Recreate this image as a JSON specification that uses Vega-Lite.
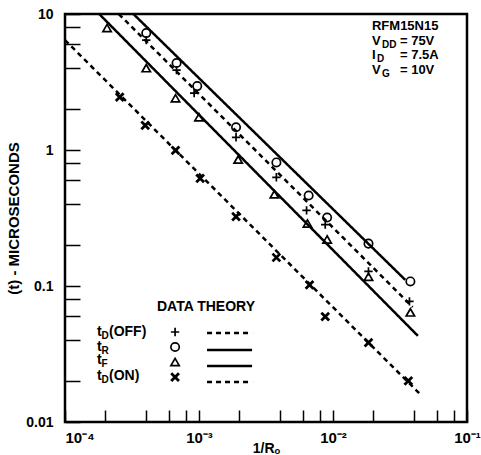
{
  "$schema": "https://vega.github.io/schema/vega-lite/v6.json",
  "width": 402,
  "height": 408,
  "autosize": {"type": "none"},
  "padding": {"left": 65, "top": 14, "right": 14, "bottom": 33},
  "background": "white",
  "config": {
    "view": {"stroke": "black", "strokeWidth": 2.5},
    "font": "Liberation Sans"
  },
  "datasets": {
    "pts": [
      {"s": "tD(OFF)", "x": 0.000404, "y": 6.43},
      {"s": "tD(OFF)", "x": 0.00068, "y": 3.87},
      {"s": "tD(OFF)", "x": 0.00092, "y": 2.62},
      {"s": "tD(OFF)", "x": 0.00189, "y": 1.24},
      {"s": "tD(OFF)", "x": 0.00378, "y": 0.63},
      {"s": "tD(OFF)", "x": 0.00635, "y": 0.36},
      {"s": "tD(OFF)", "x": 0.00875, "y": 0.283},
      {"s": "tD(OFF)", "x": 0.0184, "y": 0.128},
      {"s": "tD(OFF)", "x": 0.0372, "y": 0.077},
      {"s": "tD(OFF)", "x": 0.000663, "y": 0.0459},
      {"s": "tR", "x": 0.000404, "y": 7.24},
      {"s": "tR", "x": 0.00068, "y": 4.36},
      {"s": "tR", "x": 0.00097, "y": 2.95},
      {"s": "tR", "x": 0.00189, "y": 1.47},
      {"s": "tR", "x": 0.00378, "y": 0.81},
      {"s": "tR", "x": 0.00658, "y": 0.463},
      {"s": "tR", "x": 0.00904, "y": 0.319},
      {"s": "tR", "x": 0.0184, "y": 0.205},
      {"s": "tR", "x": 0.0378, "y": 0.108},
      {"s": "tR", "x": 0.000663, "y": 0.0356},
      {"s": "tF", "x": 0.000206, "y": 7.88},
      {"s": "tF", "x": 0.000404, "y": 4.0},
      {"s": "tF", "x": 0.000668, "y": 2.4},
      {"s": "tF", "x": 0.001, "y": 1.74},
      {"s": "tF", "x": 0.00196, "y": 0.85},
      {"s": "tF", "x": 0.00365, "y": 0.472},
      {"s": "tF", "x": 0.00645, "y": 0.288},
      {"s": "tF", "x": 0.00904, "y": 0.22},
      {"s": "tF", "x": 0.0184, "y": 0.117},
      {"s": "tF", "x": 0.0378, "y": 0.064},
      {"s": "tF", "x": 0.000663, "y": 0.0276},
      {"s": "tD(ON)", "x": 0.000256, "y": 2.45},
      {"s": "tD(ON)", "x": 0.000397, "y": 1.52},
      {"s": "tD(ON)", "x": 0.000668, "y": 0.995},
      {"s": "tD(ON)", "x": 0.00102, "y": 0.618},
      {"s": "tD(ON)", "x": 0.00189, "y": 0.324},
      {"s": "tD(ON)", "x": 0.00378, "y": 0.162},
      {"s": "tD(ON)", "x": 0.00668, "y": 0.102},
      {"s": "tD(ON)", "x": 0.00875, "y": 0.0596},
      {"s": "tD(ON)", "x": 0.0184, "y": 0.0383},
      {"s": "tD(ON)", "x": 0.0365, "y": 0.0201},
      {"s": "tD(ON)", "x": 0.000663, "y": 0.0214}
    ],
    "lines": [
      {"s": "tR", "g": "theory", "x": 0.000324, "y": 10},
      {"s": "tR", "g": "theory", "x": 0.0346, "y": 0.111},
      {"s": "tF", "g": "theory", "x": 0.00018, "y": 10},
      {"s": "tF", "g": "theory", "x": 0.043, "y": 0.043},
      {"s": "tD(OFF)", "g": "theory", "x": 0.000252, "y": 10},
      {"s": "tD(OFF)", "g": "theory", "x": 0.0393, "y": 0.07},
      {"s": "tD(ON)", "g": "theory", "x": 0.0001, "y": 6.43},
      {"s": "tD(ON)", "g": "theory", "x": 0.0445, "y": 0.0161},
      {"s": "tD(OFF)", "g": "legend", "x": 0.001148, "y": 0.0451},
      {"s": "tD(OFF)", "g": "legend", "x": 0.00249, "y": 0.0451},
      {"s": "tR", "g": "legend", "x": 0.001148, "y": 0.0338},
      {"s": "tR", "g": "legend", "x": 0.00249, "y": 0.0338},
      {"s": "tF", "g": "legend", "x": 0.001148, "y": 0.0258},
      {"s": "tF", "g": "legend", "x": 0.00249, "y": 0.0258},
      {"s": "tD(ON)", "g": "legend", "x": 0.001148, "y": 0.0197},
      {"s": "tD(ON)", "g": "legend", "x": 0.00249, "y": 0.0197}
    ],
    "texts": [
      {"t": "RFM15N15", "b": "note", "r": "main", "x": 0.01954, "y": 8.17},
      {"t": "V", "b": "note", "r": "main", "x": 0.01954, "y": 6.33},
      {"t": "DD", "b": "note", "r": "sub", "x": 0.0232, "y": 5.91},
      {"t": "= 75V", "b": "note", "r": "main", "x": 0.0316, "y": 6.33},
      {"t": "I", "b": "note", "r": "main", "x": 0.01954, "y": 5.0},
      {"t": "D", "b": "note", "r": "sub", "x": 0.0213, "y": 4.67},
      {"t": "= 7.5A", "b": "note", "r": "main", "x": 0.0316, "y": 5.0},
      {"t": "V", "b": "note", "r": "main", "x": 0.01954, "y": 3.87},
      {"t": "G", "b": "note", "r": "sub", "x": 0.0232, "y": 3.62},
      {"t": "= 10V", "b": "note", "r": "main", "x": 0.0316, "y": 3.87},
      {"t": "DATA THEORY", "b": "legend", "r": "main", "x": 0.000486, "y": 0.0702},
      {"t": "t", "b": "legend", "r": "main", "x": 0.0001733, "y": 0.0459},
      {"t": "D", "b": "legend", "r": "sub", "x": 0.000187, "y": 0.0428},
      {"t": "(OFF)", "b": "legend", "r": "main", "x": 0.000213, "y": 0.0459},
      {"t": "t", "b": "legend", "r": "main", "x": 0.0001733, "y": 0.0356},
      {"t": "R", "b": "legend", "r": "sub", "x": 0.000187, "y": 0.0333},
      {"t": "t", "b": "legend", "r": "main", "x": 0.0001733, "y": 0.0286},
      {"t": "F", "b": "legend", "r": "sub", "x": 0.000187, "y": 0.0267},
      {"t": "t", "b": "legend", "r": "main", "x": 0.0001733, "y": 0.0218},
      {"t": "D", "b": "legend", "r": "sub", "x": 0.000187, "y": 0.0204},
      {"t": "(ON)", "b": "legend", "r": "main", "x": 0.000213, "y": 0.0218}
    ]
  },
  "encoding": {
    "x": {
      "field": "x",
      "type": "quantitative",
      "scale": {"type": "log", "domain": [0.0001, 0.1], "nice": false},
      "axis": {
        "values": [0.0001, 0.0002, 0.0004, 0.0006, 0.0008, 0.001, 0.002, 0.004, 0.006, 0.008, 0.01, 0.02, 0.04, 0.06, 0.08, 0.1],
        "labelExpr": "datum.value == 0.0001 ? '10⁻⁴' : datum.value == 0.001 ? '10⁻³' : datum.value == 0.01 ? '10⁻²' : datum.value == 0.1 ? '10⁻¹' : ''",
        "labelAlign": {"condition": {"test": "datum.value < 0.0002", "value": "left"}, "value": "center"},
        "tickSize": -12,
        "tickWidth": 1.5,
        "tickColor": "black",
        "domain": false,
        "grid": false,
        "labelFont": "Liberation Sans",
        "labelFontWeight": "bold",
        "labelFontSize": 15,
        "labelColor": "black",
        "labelPadding": 20,
        "labelOverlap": false,
        "labelBound": false,
        "labelFlush": false,
        "title": "1/Rₒ",
        "titleFont": "Liberation Sans",
        "titleFontSize": 14,
        "titleFontWeight": "bold",
        "titleColor": "black",
        "titleBaseline": "top",
        "titleY": 19
      }
    },
    "y": {
      "field": "y",
      "type": "quantitative",
      "scale": {"type": "log", "domain": [0.01, 10], "nice": false},
      "axis": {
        "values": [0.01, 0.02, 0.04, 0.06, 0.08, 0.1, 0.2, 0.4, 0.6, 0.8, 1, 2, 4, 6, 8, 10],
        "labelExpr": "datum.value == 10 ? '10' : datum.value == 1 ? '1' : datum.value == 0.1 ? '0.1' : datum.value == 0.01 ? '0.01' : ''",
        "tickSize": -15,
        "tickWidth": 1.5,
        "tickColor": "black",
        "domain": false,
        "grid": false,
        "labelFont": "Liberation Sans",
        "labelFontWeight": "bold",
        "labelFontSize": 14,
        "labelColor": "black",
        "labelPadding": 27,
        "labelOverlap": false,
        "labelBound": false,
        "labelFlush": false,
        "title": "(t) - MICROSECONDS",
        "titleFont": "Liberation Sans",
        "titleFontSize": 15,
        "titleFontWeight": "bold",
        "titleColor": "black",
        "titlePadding": 4
      }
    }
  },
  "layer": [
    {
      "data": {"name": "lines"},
      "mark": {"type": "line", "strokeWidth": 2.5, "color": "black", "clip": true},
      "encoding": {
        "detail": [{"field": "s"}, {"field": "g"}],
        "strokeDash": {
          "field": "s",
          "type": "nominal",
          "scale": {"domain": ["tD(OFF)", "tR", "tF", "tD(ON)"], "range": [[5, 4], [1, 0], [1, 0], [5, 4]]},
          "legend": null
        }
      }
    },
    {
      "data": {"name": "pts"},
      "transform": [{"filter": "datum.s != 'tD(ON)'"}],
      "mark": {"type": "point", "filled": false, "size": 70, "color": "black", "opacity": 1, "strokeWidth": 1.7},
      "encoding": {
        "shape": {
          "field": "s",
          "type": "nominal",
          "scale": {"domain": ["tD(OFF)", "tR", "tF"], "range": ["M-1,0H1M0,-1V1", "circle", "triangle-up"]},
          "legend": null
        }
      }
    },
    {
      "data": {"name": "pts"},
      "transform": [{"filter": "datum.s == 'tD(ON)'"}],
      "mark": {"type": "point", "filled": false, "size": 60, "color": "black", "opacity": 1, "strokeWidth": 2.8, "shape": "M-1,-1L1,1M-1,1L1,-1"}
    },
    {
      "data": {"name": "texts"},
      "transform": [{"filter": "datum.r == 'main' && datum.b == 'legend'"}],
      "mark": {"type": "text", "align": "left", "baseline": "middle", "font": "Liberation Sans", "fontWeight": "bold", "fontSize": 14, "color": "black"},
      "encoding": {"text": {"field": "t"}}
    },
    {
      "data": {"name": "texts"},
      "transform": [{"filter": "datum.r == 'main' && datum.b == 'note'"}],
      "mark": {"type": "text", "align": "left", "baseline": "middle", "font": "Liberation Sans", "fontWeight": "bold", "fontSize": 13, "color": "black"},
      "encoding": {"text": {"field": "t"}}
    },
    {
      "data": {"name": "texts"},
      "transform": [{"filter": "datum.r == 'sub'"}],
      "mark": {"type": "text", "align": "left", "baseline": "middle", "font": "Liberation Sans", "fontWeight": "bold", "fontSize": 10, "color": "black"},
      "encoding": {"text": {"field": "t"}}
    }
  ]
}
